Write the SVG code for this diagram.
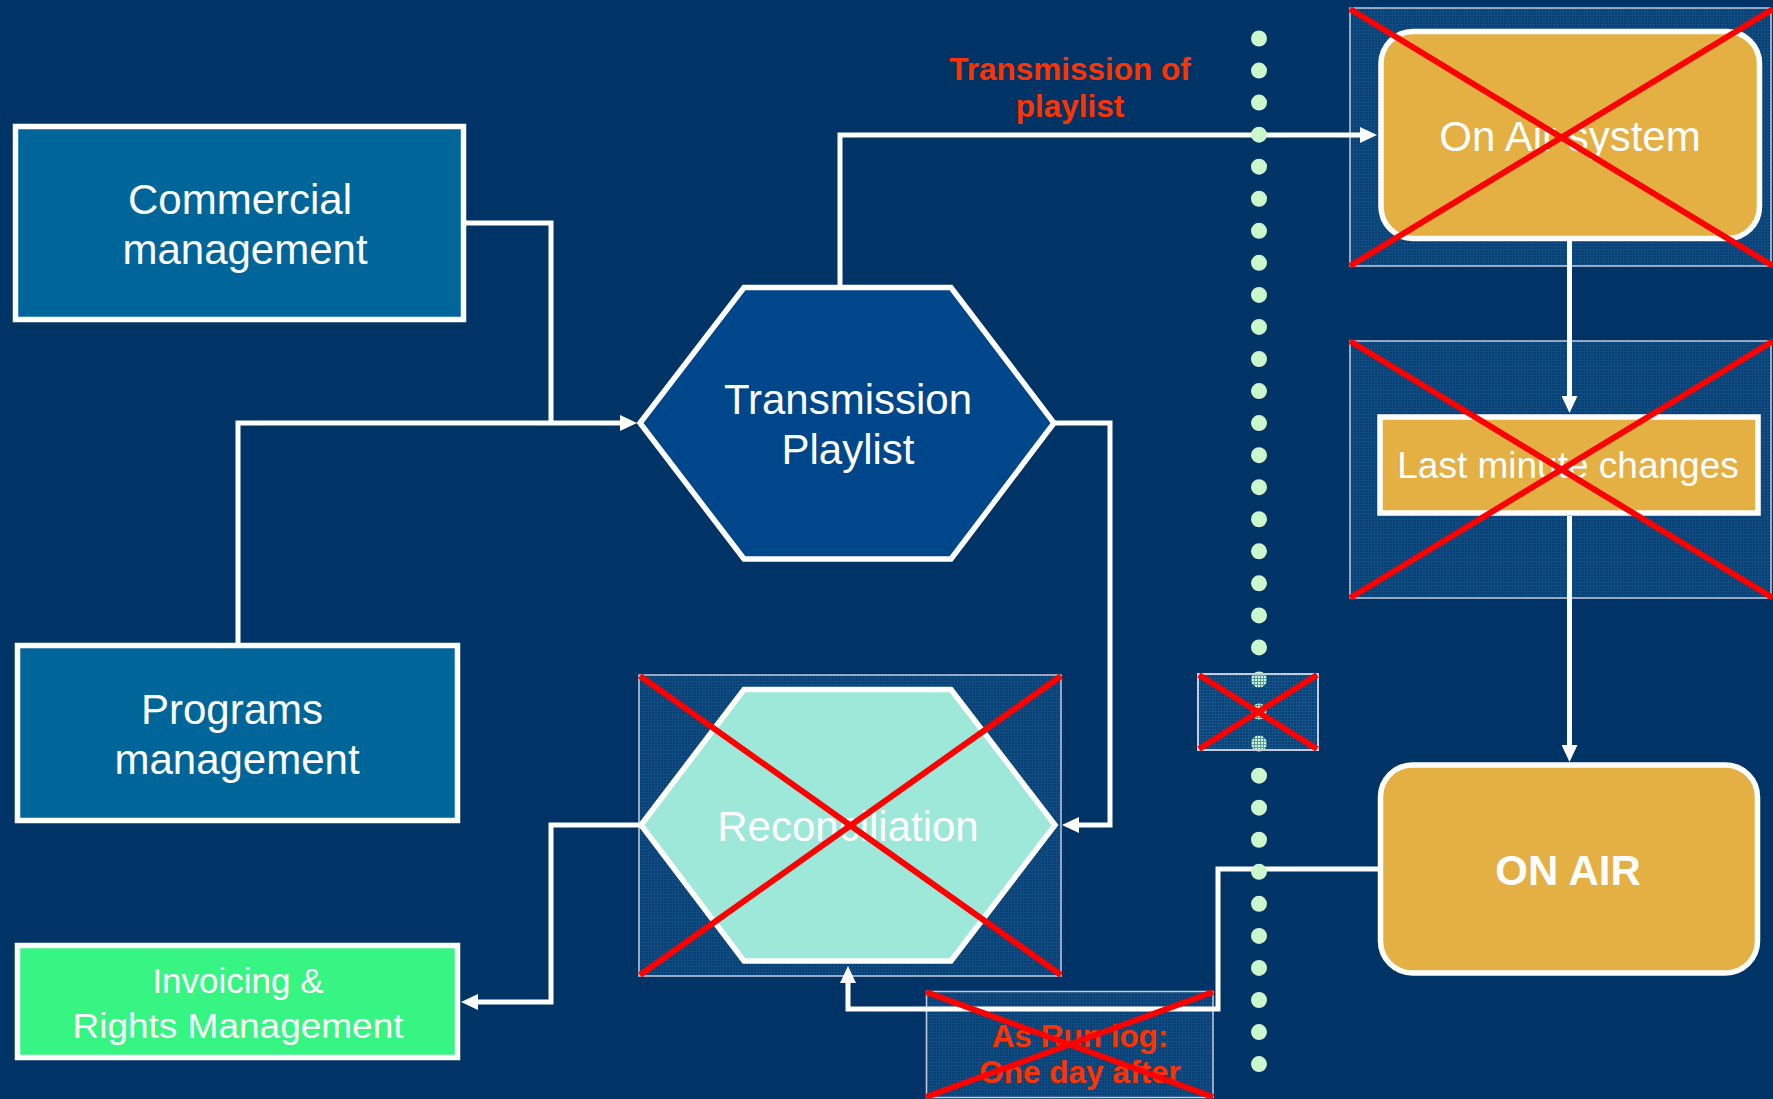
<svg xmlns="http://www.w3.org/2000/svg" width="1773" height="1099" viewBox="0 0 1773 1099">
<style>
.bg{fill:#003366}
.xbox{fill:url(#grid);stroke:#c4cde0;stroke-width:1.5}
.cross{stroke:#ff0000;stroke-width:6;fill:none;stroke-linecap:butt}
.conn{fill:none;stroke:#ffffff;stroke-width:5}
.node{stroke:#ffffff;stroke-width:5.5}
.t{font-family:"Liberation Sans",Arial,sans-serif;fill:#ffffff;text-anchor:middle}
.lbl{font-family:"Liberation Sans",Arial,sans-serif;fill:#ff3300;font-weight:bold;text-anchor:middle;font-size:31.5px}
</style>
<defs>
<pattern id="grid" width="3" height="3" patternUnits="userSpaceOnUse">
<rect width="3" height="3" fill="#093f72"/>
<path d="M0,0.5H3M0.5,0V3" stroke="#15598f" stroke-width="1" opacity="0.55"/>
</pattern>
<pattern id="gridlight" width="3" height="3" patternUnits="userSpaceOnUse">
<path d="M0,0.5H3M0.5,0V3" stroke="#15598f" stroke-width="1" opacity="0.6"/>
</pattern>
<marker id="arr" markerUnits="userSpaceOnUse" markerWidth="18" markerHeight="16" refX="7" refY="8" orient="auto">
<path d="M0,0 L17,8 L0,16 z" fill="#ffffff"/>
</marker>
</defs>
<rect class="bg" x="0" y="0" width="1773" height="1099"/>

<g id="crossed-backgrounds">
<rect class="xbox" x="1350" y="8" width="421" height="258"/>
<rect class="xbox" x="1350" y="341" width="421" height="257"/>
<rect class="xbox" x="639" y="675" width="422" height="301"/>
<rect class="xbox" x="926.5" y="991.5" width="286.5" height="106"/>
<rect x="1198" y="674" width="120" height="76" fill="url(#grid)"/>
</g>

<g id="connectors">
<path class="conn" d="M466,223 H551 V423"/>
<path class="conn" d="M238,643 V423 H627" marker-end="url(#arr)"/>
<path class="conn" d="M840,287 V135 H1367" marker-end="url(#arr)"/>
<path class="conn" d="M1054,423 H1110 V825 H1072" marker-end="url(#arr)"/>
<path class="conn" d="M640,825 H551 V1002 H471" marker-end="url(#arr)"/>
<path class="conn" d="M1569.5,241 V403" marker-end="url(#arr)"/>
<path class="conn" d="M1569.5,516 V752" marker-end="url(#arr)"/>
<path class="conn" d="M1378,869 H1218 V1009 H848 V976" marker-end="url(#arr)"/>
</g>

<g id="commercial-management">
<rect class="node" x="15.5" y="126.5" width="448" height="193" fill="#006699"/>
<text class="t" font-size="42" x="240" y="214">Commercial</text>
<text class="t" font-size="42" x="245" y="264">management</text>
</g>

<g id="programs-management">
<rect class="node" x="17.5" y="645.5" width="440" height="175" fill="#006699"/>
<text class="t" font-size="42" x="232" y="724">Programs</text>
<text class="t" font-size="42" x="237" y="774">management</text>
</g>

<g id="invoicing">
<rect class="node" x="17.5" y="945.5" width="440" height="112" fill="#36f582"/>
<text class="t" font-size="35" x="238" y="993">Invoicing &amp;</text>
<text class="t" font-size="35" x="238" y="1038" textLength="331" lengthAdjust="spacingAndGlyphs">Rights Management</text>
</g>

<g id="transmission-playlist">
<polygon class="node" points="640,423 744,287.5 951,287.5 1054,423 951,559 744,559" fill="#00468a"/>
<text class="t" font-size="42" x="848" y="414">Transmission</text>
<text class="t" font-size="42" x="848" y="464">Playlist</text>
</g>

<g id="reconciliation">
<polygon class="node" points="641,825 744,689.5 951,689.5 1055,825 951,961 744,961" fill="#9de8d8"/>
<text class="t" font-size="42" x="848" y="841">Reconciliation</text>
<path class="cross" d="M640,676 L1061,975 M1061,676 L640,975"/>
</g>

<g id="on-air-system">
<rect class="node" x="1381" y="31.5" width="378.5" height="207" rx="32" fill="#e4b043"/>
<text class="t" font-size="42" x="1570" y="151">On Air system</text>
<path class="cross" d="M1350,9 L1773,266 M1773,9 L1350,266"/>
</g>

<g id="last-minute-changes">
<rect class="node" x="1380" y="417" width="378" height="96" fill="#e4b043"/>
<text class="t" font-size="37" x="1568" y="478">Last minute changes</text>
<path class="cross" d="M1350,341 L1773,598 M1773,341 L1350,598"/>
</g>

<g id="on-air">
<rect class="node" x="1380.5" y="765" width="377" height="208" rx="32" fill="#e4b043"/>
<text class="t" font-size="42" font-weight="bold" x="1568" y="885">ON AIR</text>
</g>

<g id="divider">
<line x1="1259" y1="38.5" x2="1259" y2="1065" stroke="#ccf7cc" stroke-width="16" stroke-linecap="round" stroke-dasharray="0 32.05"/>
<rect x="1198" y="674" width="120" height="76" fill="url(#gridlight)" stroke="#c4cde0" stroke-width="2"/>
<path class="cross" d="M1199,675 L1317,749 M1317,675 L1199,749"/>
</g>

<g id="label-transmission-of-playlist">
<text class="lbl" font-size="32" x="1070" y="80">Transmission of</text>
<text class="lbl" font-size="32" x="1070" y="117">playlist</text>
</g>

<g id="label-as-run-log">
<text class="lbl" x="1080" y="1047">As Run log:</text>
<text class="lbl" x="1080" y="1083">One day after</text>
<path class="cross" d="M926,992 L1213,1097 M1213,992 L926,1097"/>
</g>
</svg>
